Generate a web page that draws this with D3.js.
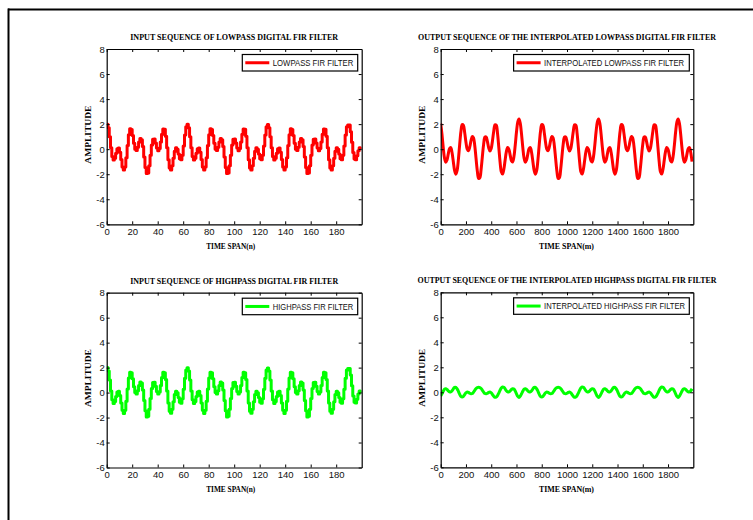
<!DOCTYPE html>
<html><head><meta charset="utf-8">
<script src="https://cdn.jsdelivr.net/npm/d3@7"></script>
<style>body{margin:0;background:#fff}</style>
</head><body>
<svg id="c" width="753" height="520"></svg>
<script>
// ---- data ----
const yTicks = [-6,-4,-2,0,2,4,6,8];
const inputTicks = [0,20,40,60,80,100,120,140,160,180];
const outputTicks = [0,200,400,600,800,1000,1200,1400,1600,1800];

const lowpassInput = [
2.00,1.72,1.00,0.12,-0.58,-0.87,-0.72,-0.32,0.04,0.10,
-0.24,-0.83,-1.42,-1.67,-1.42,-0.69,0.29,1.16,1.63,1.58,
1.10,0.47,0.00,-0.11,0.15,0.57,0.85,0.76,0.21,-0.63,
-1.46,-1.95,-1.90,-1.33,-0.48,0.33,0.80,0.82,0.50,0.09,
-0.12,0.05,0.57,1.20,1.62,1.59,1.04,0.12,-0.84,-1.50,
-1.66,-1.33,-0.73,-0.16,0.11,-0.01,-0.39,-0.77,-0.85,-0.49,
0.26,1.14,1.80,
1.99,1.72,1.00,0.12,-0.58,-0.87,-0.72,-0.32,0.04,0.10,
-0.24,-0.83,-1.42,-1.67,-1.42,-0.69,0.29,1.16,1.63,1.58,
1.10,0.47,0.00,-0.11,0.15,0.57,0.85,0.76,0.21,-0.63,
-1.46,-1.95,-1.90,-1.33,-0.48,0.33,0.80,0.82,0.50,0.09,
-0.12,0.05,0.57,1.20,1.62,1.59,1.04,0.12,-0.84,-1.50,
-1.66,-1.33,-0.73,-0.16,0.11,-0.01,-0.39,-0.77,-0.85,-0.49,
0.26,1.14,1.80,
1.97,1.72,1.00,0.12,-0.58,-0.87,-0.72,-0.32,0.04,0.10,
-0.24,-0.83,-1.42,-1.67,-1.42,-0.69,0.29,1.16,1.63,1.58,
1.10,0.47,0.00,-0.11,0.15,0.57,0.85,0.76,0.21,-0.63,
-1.46,-1.95,-1.90,-1.33,-0.48,0.33,0.80,0.82,0.50,0.09,
-0.12,0.05,0.57,1.20,1.62,1.59,1.04,0.12,-0.84,-1.50,
-1.66,-1.33,-0.73,-0.16,0.11,-0.01,-0.39,-0.77,-0.85,-0.49,
0.26,1.14,1.80,
1.93,1.93,1.40,0.55,-0.27,-0.78,-0.84,-0.53,-0.12,0.12,-0.03
];

const highpassInput = [
2.00,1.72,1.00,0.12,-0.58,-0.87,-0.72,-0.32,0.04,0.10,
-0.24,-0.83,-1.42,-1.67,-1.42,-0.69,0.29,1.16,1.63,1.58,
1.10,0.47,0.00,-0.11,0.15,0.57,0.85,0.76,0.21,-0.63,
-1.46,-1.95,-1.90,-1.33,-0.48,0.33,0.80,0.82,0.50,0.09,
-0.12,0.05,0.57,1.20,1.62,1.59,1.04,0.12,-0.84,-1.50,
-1.66,-1.33,-0.73,-0.16,0.11,-0.01,-0.39,-0.77,-0.85,-0.49,
0.26,1.14,1.80,
1.99,1.72,1.00,0.12,-0.58,-0.87,-0.72,-0.32,0.04,0.10,
-0.24,-0.83,-1.42,-1.67,-1.42,-0.69,0.29,1.16,1.63,1.58,
1.10,0.47,0.00,-0.11,0.15,0.57,0.85,0.76,0.21,-0.63,
-1.46,-1.95,-1.90,-1.33,-0.48,0.33,0.80,0.82,0.50,0.09,
-0.12,0.05,0.57,1.20,1.62,1.59,1.04,0.12,-0.84,-1.50,
-1.66,-1.33,-0.73,-0.16,0.11,-0.01,-0.39,-0.77,-0.85,-0.49,
0.26,1.14,1.80,
1.97,1.72,1.00,0.12,-0.58,-0.87,-0.72,-0.32,0.04,0.10,
-0.24,-0.83,-1.42,-1.67,-1.42,-0.69,0.29,1.16,1.63,1.58,
1.10,0.47,0.00,-0.11,0.15,0.57,0.85,0.76,0.21,-0.63,
-1.46,-1.95,-1.90,-1.33,-0.48,0.33,0.80,0.82,0.50,0.09,
-0.12,0.05,0.57,1.20,1.62,1.59,1.04,0.12,-0.84,-1.50,
-1.66,-1.33,-0.73,-0.16,0.11,-0.01,-0.39,-0.77,-0.85,-0.49,
0.26,1.14,1.80,
1.93,1.93,1.40,0.55,-0.27,-0.78,-0.84,-0.53,-0.12,0.12,-0.03
];

// output sequences, one value every 10 samples (m = 0, 10, ..., 1990)
const lowpassOutput = [
2.06,1.20,0.14,-0.70,-1.04,-0.86,-0.38,0.05,0.12,-0.29,
-1.00,-1.70,-2.00,-1.70,-0.83,0.35,1.39,1.96,1.90,1.32,
0.56,0.00,-0.13,0.18,0.68,1.02,0.91,0.25,-0.76,-1.75,
-2.34,-2.28,-1.60,-0.58,0.40,0.96,0.98,0.60,0.11,-0.14,
0.06,0.68,1.44,1.94,1.91,1.25,0.14,-1.01,-1.80,-1.99,
-1.60,-0.88,-0.19,0.13,-0.01,-0.47,-0.92,-1.02,-0.59,0.31,
1.37,2.16,
2.40,2.06,1.20,0.14,-0.70,-1.04,-0.86,-0.38,0.05,0.12,
-0.29,-1.00,-1.70,-2.00,-1.70,-0.83,0.35,1.39,1.96,1.90,
1.32,0.56,0.00,-0.13,0.18,0.68,1.02,0.91,0.25,-0.76,
-1.75,-2.34,-2.28,-1.60,-0.58,0.40,0.96,0.98,0.60,0.11,
-0.14,0.06,0.68,1.44,1.94,1.91,1.25,0.14,-1.01,-1.80,
-1.99,-1.60,-0.88,-0.19,0.13,-0.01,-0.47,-0.92,-1.02,-0.59,
0.31,1.37,2.16,
2.40,2.06,1.20,0.14,-0.70,-1.04,-0.86,-0.38,0.05,0.12,
-0.29,-1.00,-1.70,-2.00,-1.70,-0.83,0.35,1.39,1.96,1.90,
1.32,0.56,0.00,-0.13,0.18,0.68,1.02,0.91,0.25,-0.76,
-1.75,-2.34,-2.28,-1.60,-0.58,0.40,0.96,0.98,0.60,0.11,
-0.14,0.06,0.68,1.44,1.94,1.91,1.25,0.14,-1.01,-1.80,
-1.99,-1.60,-0.88,-0.19,0.13,-0.01,-0.47,-0.92,-1.02,-0.59,
0.31,1.37,2.16,
2.40,2.06,1.20,0.14,-0.70,-1.04,-0.86,-0.38,0.05,0.12,-0.29,-1.00
];

const highpassOutput = [
-0.30,-0.12,0.08,0.25,0.28,0.22,0.12,0.04,0.04,0.12,
0.28,0.40,0.40,0.28,0.08,-0.15,-0.33,-0.38,-0.32,-0.18,
-0.04,0.03,0.00,-0.08,-0.12,-0.10,0.02,0.16,0.30,0.38,
0.40,0.38,0.30,0.16,0.02,-0.10,-0.12,-0.08,0.00,0.03,
-0.04,-0.18,-0.32,-0.40,-0.38,-0.26,-0.06,0.16,0.34,0.42,
0.40,0.28,0.12,0.04,0.04,0.12,0.22,0.28,0.26,0.10,
-0.12,-0.32,-0.42,
-0.30,-0.12,0.08,0.25,0.28,0.22,0.12,0.04,0.04,0.12,
0.28,0.40,0.40,0.28,0.08,-0.15,-0.33,-0.38,-0.32,-0.18,
-0.04,0.03,0.00,-0.08,-0.12,-0.10,0.02,0.16,0.30,0.38,
0.40,0.38,0.30,0.16,0.02,-0.10,-0.12,-0.08,0.00,0.03,
-0.04,-0.18,-0.32,-0.40,-0.38,-0.26,-0.06,0.16,0.34,0.42,
0.40,0.28,0.12,0.04,0.04,0.12,0.22,0.28,0.26,0.10,
-0.12,-0.32,-0.42,
-0.30,-0.12,0.08,0.25,0.28,0.22,0.12,0.04,0.04,0.12,
0.28,0.40,0.40,0.28,0.08,-0.15,-0.33,-0.38,-0.32,-0.18,
-0.04,0.03,0.00,-0.08,-0.12,-0.10,0.02,0.16,0.30,0.38,
0.40,0.38,0.30,0.16,0.02,-0.10,-0.12,-0.08,0.00,0.03,
-0.04,-0.18,-0.32,-0.40,-0.38,-0.26,-0.06,0.16,0.34,0.42,
0.40,0.28,0.12,0.04,0.04,0.12,0.22,0.28,0.26,0.10,
-0.12,-0.32,-0.42,
-0.30,-0.12,0.08,0.25,0.28,0.22,0.12,0.04,0.04,0.12,0.28
];

const titles = [
  "INPUT SEQUENCE OF LOWPASS DIGITAL FIR FILTER",
  "OUTPUT SEQUENCE OF THE INTERPOLATED LOWPASS DIGITAL FIR FILTER",
  "INPUT SEQUENCE OF HIGHPASS DIGITAL FIR FILTER",
  "OUTPUT SEQUENCE OF THE INTERPOLATED HIGHPASS DIGITAL FIR FILTER"
];
const legends = ["LOWPASS FIR FILTER","INTERPOLATED LOWPASS FIR FILTER","HIGHPASS FIR FILTER","INTERPOLATED HIGHPASS FIR FILTER"];
const xLabels = ["TIME SPAN(n)","TIME SPAN(m)","TIME SPAN(n)","TIME SPAN(m)"];

// ---- layout ----
const svg = d3.select('#c');
svg.append('line').attr('x1',8).attr('x2',753).attr('y1',9.5).attr('y2',9.5).attr('stroke','#000').attr('stroke-width',2);
svg.append('line').attr('x1',8.5).attr('x2',8.5).attr('y1',8.5).attr('y2',520).attr('stroke','#000').attr('stroke-width',2);

const panels = [
  {l:106.7,r:361.7,t:49,b:224.3,dom:[0,200],ticks:inputTicks,data:lowpassInput,step:1,color:'#ff0000',curve:d3.curveStepAfter,titleW:208,legW:80.5,legBoxW:115.4},
  {l:440.7,r:693.3,t:49,b:224.3,dom:[0,2000],ticks:outputTicks,data:lowpassOutput,step:10,color:'#ff0000',curve:d3.curveCatmullRom,titleW:298,legW:140,legBoxW:175.7},
  {l:106.7,r:361.7,t:292.7,b:467.5,dom:[0,200],ticks:inputTicks,data:highpassInput,step:1,color:'#00ff00',curve:d3.curveStepAfter,titleW:208,legW:80.5,legBoxW:115.4},
  {l:440.7,r:693.3,t:292.3,b:467.3,dom:[0,2000],ticks:outputTicks,data:highpassOutput,step:10,color:'#00ff00',curve:d3.curveCatmullRom,titleW:299,legW:141,legBoxW:175.7}
];

const sans = "'Liberation Sans', Arial, sans-serif";
const serif = "'Liberation Serif', 'Times New Roman', serif";
const plainFmt = d => (d < 0 ? '-' : '') + Math.abs(d);

panels.forEach((p,i) => {
  const x = d3.scaleLinear().domain(p.dom).range([p.l,p.r]);
  const y = d3.scaleLinear().domain([-6,8]).range([p.b,p.t]);
  const g = svg.append('g');
  const clipId = 'clip'+i;
  svg.append('clipPath').attr('id',clipId).append('rect')
    .attr('x',p.l).attr('y',p.t).attr('width',p.r-p.l).attr('height',p.b-p.t);

  const line = d3.line().x((d,k)=>x(k*p.step)).y(d=>y(d)).curve(p.curve);
  g.append('path').datum(p.data).attr('d',line).attr('fill','none')
    .attr('stroke',p.color).attr('stroke-width',3).attr('stroke-linejoin','round')
    .attr('clip-path',`url(#${clipId})`);

  const styleAxis = sel => {
    sel.select('.domain').attr('stroke','#000').attr('stroke-width',1.2);
    sel.selectAll('.tick line').attr('stroke','#000').attr('stroke-width',1);
    sel.selectAll('text').attr('font-family',sans).attr('font-size','9.5px').attr('fill','#111');
  };
  g.append('g').attr('transform',`translate(0,${p.b})`)
    .call(d3.axisBottom(x).tickValues(p.ticks).tickSize(-3).tickSizeOuter(0).tickPadding(4).tickFormat(plainFmt))
    .call(styleAxis);
  g.append('g').attr('transform',`translate(0,${p.t})`)
    .call(d3.axisTop(x).tickValues(p.ticks).tickSize(-3).tickSizeOuter(0).tickFormat(''))
    .call(styleAxis);
  g.append('g').attr('transform',`translate(${p.l},0)`)
    .call(d3.axisLeft(y).tickValues(yTicks).tickSize(-3).tickSizeOuter(0).tickPadding(2).tickFormat(plainFmt))
    .call(styleAxis);
  g.append('g').attr('transform',`translate(${p.r},0)`)
    .call(d3.axisRight(y).tickValues(yTicks).tickSize(-3).tickSizeOuter(0).tickFormat(''))
    .call(styleAxis);

  // title
  g.append('text').attr('x',(p.l+p.r)/2).attr('y',p.t-9).attr('text-anchor','middle')
    .attr('font-family',serif).attr('font-weight','bold').attr('font-size','8.5px')
    .attr('textLength',p.titleW).attr('lengthAdjust','spacingAndGlyphs').text(titles[i]);
  // x label
  g.append('text').attr('x',(p.l+p.r)/2 + (p.step===1?-3.5:-0.5)).attr('y',p.b+24.5).attr('text-anchor','middle')
    .attr('font-family',serif).attr('font-weight','bold').attr('font-size','8.5px')
    .attr('textLength',p.step===1?49:55).attr('lengthAdjust','spacingAndGlyphs').text(xLabels[i]);
  // y label
  const yc = (p.t+p.b)/2 - 2;
  const yx = p.l - 15.5;
  g.append('text').attr('transform',`translate(${yx},${yc}) rotate(-90)`).attr('text-anchor','middle')
    .attr('font-family',serif).attr('font-weight','bold').attr('font-size','8.5px')
    .attr('textLength',58).attr('lengthAdjust','spacingAndGlyphs').text('AMPLITUDE');

  // legend
  const bx1 = p.r - 4, bx0 = bx1 - p.legBoxW, by0 = p.t + 5.5, bh = 16.5;
  g.append('rect').attr('x',bx0).attr('y',by0).attr('width',p.legBoxW).attr('height',bh)
    .attr('fill','#fff').attr('stroke','#000').attr('stroke-width',1.2);
  g.append('line').attr('x1',bx0+3).attr('x2',bx0+27).attr('y1',by0+bh/2).attr('y2',by0+bh/2)
    .attr('stroke',p.color).attr('stroke-width',3);
  g.append('text').attr('x',bx0+30.5).attr('y',by0+bh/2+3.2)
    .attr('font-family',sans).attr('font-size','9px').attr('fill','#111')
    .attr('textLength',p.legW).attr('lengthAdjust','spacingAndGlyphs').text(legends[i]);
});
</script>
</body></html>
